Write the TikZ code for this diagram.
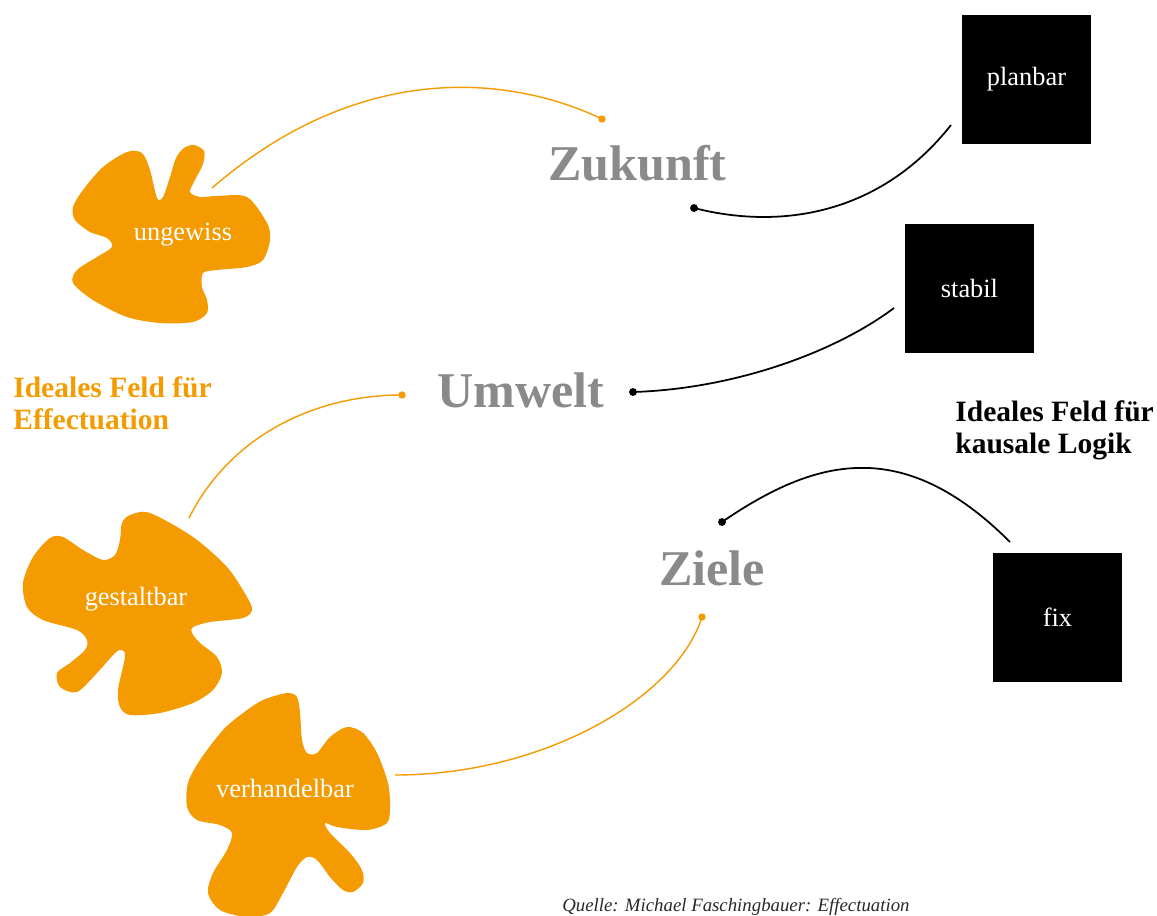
\documentclass[tikz,border=0pt]{standalone}
\usepackage{fontspec}
\setmainfont{Liberation Serif}
\usepackage{tikz}
\usepackage{xcolor}
\definecolor{effect}{RGB}{243, 155, 0}
\definecolor{keyword}{RGB}{138, 138, 138}
\definecolor{source}{RGB}{40, 40, 40}
\tikzstyle{box} = [
    rectangle,
    fill=black,
    text=white,
    minimum width=2.6cm,
    minimum height=2.6cm,
    inner sep=0pt,
    font=\fontsize{15}{18}\selectfont
]
\tikzstyle{keyword} = [
    text=keyword,
    inner sep=0pt,
    anchor=base west,
    font=\fontsize{28.5}{34}\selectfont\bfseries
]
\tikzstyle{field} = [
    align=left,
    inner sep=0pt,
    anchor=base west,
    font=\fontsize{16.8}{18}\selectfont\bfseries
]
\tikzstyle{blobtext} = [
    text=white,
    anchor=base,
    font=\fontsize{15}{18}\selectfont
]
\tikzstyle{olink} = [
    draw=effect,
    line width=0.8pt
]
\tikzstyle{blink} = [
    draw=black,
    line width=1pt
]
\tikzstyle{odot} = [circle, fill=effect, inner sep=0pt, minimum size=4.2pt]
\tikzstyle{bdot} = [circle, fill=black, inner sep=0pt, minimum size=4.5pt]

\begin{document}
\begin{tikzpicture}[x=0.02cm, y=-0.02cm]
    \useasboundingbox (0,0) rectangle (1157,916);

    % orange blobs
    \fill[effect] plot[smooth cycle] coordinates {
        (204,151) (203,164) (195,180) (190,192) (200,197) (217,196) (247,197) (267,223)
        (270,240) (263,260) (247,267) (217,270) (203,273) (202,287) (207,300)
        (207,313) (193,322) (160,323) (127,317) (93,300) (73,283) (77,270)
        (97,257) (112,247) (107,238) (90,232) (75,220) (73,207) (83,190)
        (103,167) (127,152) (142,153) (150,170) (157,198) (163,197) (170,177)
        (176,158) (184,148) (194,145)};
    \fill[effect] plot[smooth cycle] coordinates {
        (130,515) (150,513) (193,537) (227,567) (247,597) (252,610) (243,618)
        (210,622) (193,627) (192,633) (200,643) (217,657) (222,673) (213,690)
        (193,703) (160,713) (130,715) (120,707) (118,690) (125,657) (122,650)
        (115,653) (97,673) (77,692) (60,687) (57,673) (70,663) (85,650)
        (87,640) (77,630) (43,620) (27,607) (23,583) (33,557) (50,538)
        (63,537) (83,550) (103,560) (115,555) (120,540) (122,523)};
    \fill[effect] plot[smooth cycle] coordinates {
        (263,700) (287,693) (297,697) (300,713) (302,740) (307,753) (317,753)
        (330,737) (347,727) (363,733) (377,753) (388,783) (390,807) (387,823)
        (367,830) (337,827) (325,823) (330,833) (350,853) (362,870) (363,883)
        (353,892) (343,890) (330,877) (317,860) (307,857) (297,867) (283,893)
        (270,913) (247,917) (220,910) (208,893) (213,873) (227,850) (232,833)
        (220,825) (197,820) (187,807) (188,783) (200,760) (223,730) (243,713)};

    \node[blobtext] (ungewiss) at (183,240) {ungewiss};
    \node[blobtext] (gestaltbar) at (136,605) {gestaltbar};
    \node[blobtext] (verhandelbar) at (285,797) {verhandelbar};

    \node[box] (planbar) at (1026.5,79.5) {planbar};
    \node[box] (stabil) at (969.5,288.5) {stabil};
    \node[box] (fix) at (1057.5,617.5) {fix};

    \node[keyword] (zukunft) at (548,180) {Zukunft};
    \node[keyword] (umwelt) at (437,407) {Umwelt};
    \node[keyword] (ziele) at (659,585) {Ziele};

    \node[field, text=effect] (effectuation) at (13,429) {Ideales Feld für\\Effectuation};
    \node[field, text=black] (kausal) at (955,453) {Ideales Feld für\\kausale Logik};

    \node[text=source, inner sep=0pt, anchor=base west,
        font=\fontsize{10.7}{13}\selectfont\itshape] (quelle) at (562,911)
        {Quelle: Michael Faschingbauer: Effectuation};

    % free ends and dots
    \coordinate (ungewissEnd) at (212,188);
    \coordinate (gestaltbarEnd) at (189,518);
    \coordinate (verhandelbarEnd) at (395,775);
    \coordinate (planbarEnd) at (951,125);
    \coordinate (stabilEnd) at (894,308);
    \coordinate (fixEnd) at (1010,542);
    \node[odot] (zukunftO) at (602,119) {};
    \node[bdot] (zukunftB) at (694,208) {};
    \node[odot] (umweltO) at (402,395) {};
    \node[bdot] (umweltB) at (633,392) {};
    \node[odot] (zieleO) at (702,617) {};
    \node[bdot] (zieleB) at (722,522) {};

    \draw[olink] (ungewissEnd) .. controls +(148,-128) and +(-92,-44) .. (zukunftO.center);
    \draw[olink] (gestaltbarEnd) .. controls +(40,-80) and +(-90,0) .. (umweltO.center);
    \draw[olink] (verhandelbarEnd) .. controls +(150,0) and +(-25,80) .. (zieleO.center);
    \draw[blink] (planbarEnd) .. controls +(-71,90) and +(86,22) .. (zukunftB.center);
    \draw[blink] (stabilEnd) .. controls +(-60,45) and +(100,-3) .. (umweltB.center);
    \draw[blink] (fixEnd) .. controls +(-108,-108) and +(92,-63) .. (zieleB.center);
\end{tikzpicture}
\end{document}
